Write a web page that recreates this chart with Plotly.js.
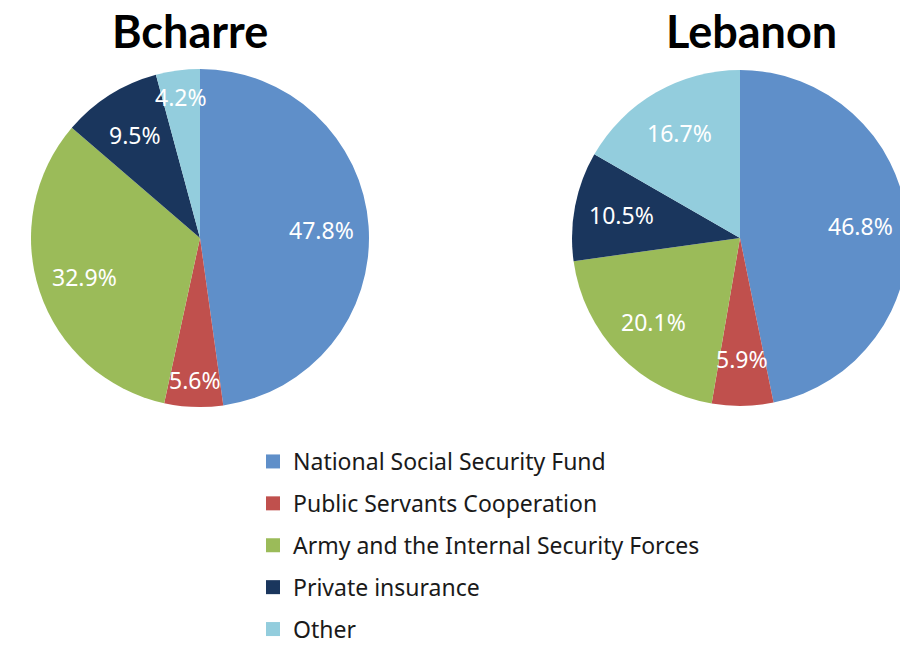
<!DOCTYPE html>
<html><head><meta charset="utf-8">
<script src="https://cdn.plot.ly/plotly-3.0.1.min.js"></script>
<style>html,body{margin:0;padding:0;overflow:hidden;background:#fff}</style>
</head><body><div id="chart"></div>
<script>
const categories = ["National Social Security Fund","Public Servants Cooperation","Army and the Internal Security Forces","Private insurance","Other"];
const bcharreValues = [47.8, 5.6, 32.9, 9.5, 4.2];
const lebanonValues = [46.8, 5.9, 20.1, 10.5, 16.7];
const chartTitles = ["Bcharre","Lebanon"];
const colors = ["#5F8FC9","#C0504D","#9BBB59","#1A365D","#93CDDD"];

const W = 920, H = 670;
const domains = [
  {x:[31/W, 369/W], y:[1-407/H, 1-69/H]},
  {x:[572/W, 908/W], y:[1-406/H, 1-70/H]}
];
const seriesList = [bcharreValues, lebanonValues];

const traces = seriesList.map((vals,i)=>({
  type:'pie', values:vals, labels:categories, sort:false, direction:'clockwise', rotation:0,
  domain:domains[i], marker:{colors:colors, line:{width:0}}, textinfo:'none', hoverinfo:'label+percent',
  showlegend:false
}));
// legend entries (one per category, grouped so that a gap can separate them)
categories.forEach((c,k)=>{
  traces.push({type:'scatter', mode:'markers', x:[null], y:[null], name:c, legendgroup:'g'+k,
    marker:{symbol:'square', size:14, color:colors[k]}, showlegend:true, hoverinfo:'skip'});
});

const annotations = [];
seriesList.forEach((vals,i)=>{
  const d = domains[i];
  const cx = (d.x[0]+d.x[1])/2, cy = (d.y[0]+d.y[1])/2;
  const rPx = Math.min((d.x[1]-d.x[0])*W, (d.y[1]-d.y[0])*H)/2;
  const total = vals.reduce((a,b)=>a+b,0);
  let cum = 0;
  vals.forEach(v=>{
    const mid = (cum + v/2)/total*2*Math.PI; cum += v;
    const f = v < 5.8 ? 0.84 : 0.72;
    annotations.push({xref:'paper', yref:'paper', showarrow:false, xanchor:'center', yanchor:'middle',
      x: cx + f*rPx*Math.sin(mid)/W, y: cy + f*rPx*Math.cos(mid)/H,
      text: v.toFixed(1)+'%', font:{family:'Noto Sans', size:23, color:'#fff'}});
  });
  annotations.push({xref:'paper', yref:'paper', showarrow:false, xanchor:'center', yanchor:'middle',
    x:(i===0?190:751)/W, y:1-31/H,
    text:'<b>'+chartTitles[i]+'</b>', font:{family:'Lato', size:45, color:'#000'}});
});

const layout = {
  width:W, height:H, margin:{l:0,r:0,t:0,b:0}, paper_bgcolor:'#fff', plot_bgcolor:'rgba(0,0,0,0)',
  xaxis:{visible:false, domain:[0,0.01]}, yaxis:{visible:false, domain:[0,0.01]},
  annotations:annotations,
  showlegend:true,
  legend:{x:253/W, xanchor:'left', y:1-440/H, yanchor:'top', orientation:'v', tracegroupgap:9,
    font:{family:'Noto Sans', size:23, color:'#1a1a1a'}, traceorder:'grouped', bgcolor:'rgba(0,0,0,0)'}
};
Plotly.newPlot('chart', traces, layout, {displayModeBar:false, staticPlot:true});
</script></body></html>
